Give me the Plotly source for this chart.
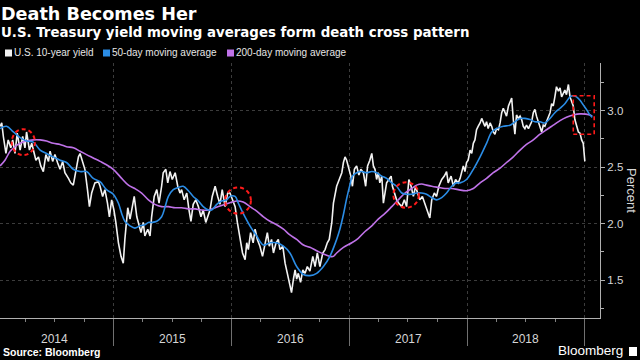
import plotly.graph_objects as go
import pandas as pd

BASE = pd.Timestamp("2014-01-01")

# ---- data: days since 2014-01-01 and yield in percent ----
yield_days = [12, 17, 22, 30, 37, 45, 51, 58, 65, 74, 82, 89, 94, 103, 110, 115, 123, 131, 138, 146,
              154, 162, 167, 175, 182, 190, 198, 206, 213, 224, 231, 239, 247, 255, 260, 268, 275, 283,
              289, 296, 306, 317, 322, 330, 337, 345, 351, 358, 365, 371,
              379, 387, 394, 399, 408, 415, 420, 428, 436, 443, 449, 456, 461, 470, 477, 482, 490, 498,
              505, 513, 518, 526, 532, 539, 546, 555, 563, 570, 575, 583, 591, 598, 604, 611, 619, 627,
              635, 642, 650, 656, 663, 670, 679, 687, 694, 701, 710, 718,
              725, 733, 741, 748, 756, 764, 772, 777, 782, 789, 797, 803, 810, 818, 826, 834, 841, 847,
              854, 860, 868, 875, 880, 889, 896, 903, 909, 916, 922, 927, 932, 937, 944, 951, 958, 965,
              973, 982, 989, 996, 1004, 1013, 1020, 1027, 1033, 1041, 1046, 1051, 1056, 1064, 1072, 1077,
              1082, 1087, 1094, 1100, 1105, 1111, 1118, 1125, 1131, 1139, 1146, 1152, 1159, 1165, 1170,
              1175, 1180, 1185, 1190, 1196, 1201, 1206, 1211, 1218, 1225, 1229, 1235, 1242, 1249, 1258,
              1266, 1273, 1280, 1287, 1294, 1301, 1307, 1314, 1322, 1330, 1338, 1345, 1351, 1359, 1366,
              1373, 1382, 1390, 1397, 1402, 1411, 1418, 1425, 1433,
              1439, 1444, 1449, 1454, 1459, 1464, 1470, 1475, 1480, 1485, 1490, 1495, 1501, 1506, 1511,
              1516, 1521, 1526, 1532, 1537, 1542, 1547, 1552, 1558, 1563, 1568, 1573, 1578, 1583, 1589,
              1594, 1599, 1604, 1609, 1614, 1620, 1625, 1630, 1635, 1640, 1645, 1651, 1656, 1661, 1666,
              1671, 1676, 1682, 1687, 1692, 1697, 1702, 1707, 1713, 1718, 1723, 1728, 1733, 1738, 1744,
              1749, 1754, 1759, 1764, 1769, 1775, 1780, 1785, 1790, 1795, 1800, 1806, 1811, 1816, 1821,
              1826]
yield_vals = [2.86, 2.89, 2.77, 2.62, 2.74, 2.67, 2.74, 2.62, 2.80, 2.65, 2.77, 2.67, 2.81, 2.65, 2.71,
              2.65, 2.56, 2.59, 2.51, 2.46, 2.61, 2.55, 2.64, 2.55, 2.61, 2.54, 2.48, 2.55, 2.45, 2.40,
              2.36, 2.34, 2.45, 2.59, 2.62, 2.55, 2.48, 2.30, 2.15, 2.27, 2.36, 2.37, 2.33, 2.24, 2.30,
              2.18, 2.06, 2.21, 2.12, 2.01,
              1.83, 1.71, 1.65, 1.86, 2.14, 2.04, 2.12, 2.24, 2.06, 1.98, 1.92, 2.01, 1.89, 1.95, 1.89,
              2.06, 2.24, 2.30, 2.18, 2.33, 2.45, 2.48, 2.36, 2.46, 2.39, 2.45, 2.33, 2.27, 2.30, 2.21,
              2.27, 2.12, 2.02, 2.17, 2.21, 2.15, 2.06, 2.12, 2.01, 2.06, 2.12, 2.24, 2.33, 2.24, 2.17,
              2.30, 2.15, 2.27,
              2.27, 2.21, 2.15, 2.01, 1.89, 1.74, 1.68, 1.83, 1.77, 1.92, 1.83, 1.95, 1.86, 1.80, 1.71,
              1.83, 1.92, 1.80, 1.86, 1.74, 1.83, 1.86, 1.77, 1.80, 1.65, 1.56, 1.48, 1.39, 1.51, 1.59,
              1.51, 1.56, 1.48, 1.59, 1.56, 1.62, 1.58, 1.71, 1.62, 1.74, 1.62, 1.74, 1.77, 1.83, 1.86,
              2.01, 2.18, 2.27, 2.33, 2.39, 2.45, 2.54,
              2.59, 2.56, 2.48, 2.42, 2.33, 2.48, 2.51, 2.43, 2.48, 2.45, 2.33, 2.51, 2.56, 2.62, 2.51,
              2.48, 2.39, 2.45, 2.36, 2.42, 2.18, 2.27, 2.36, 2.39, 2.42, 2.33, 2.27, 2.21, 2.18, 2.15,
              2.21, 2.15, 2.39, 2.33, 2.24, 2.33, 2.27, 2.21, 2.24, 2.18, 2.12, 2.05, 2.21, 2.27, 2.24,
              2.33, 2.39, 2.42, 2.46, 2.36, 2.42, 2.33, 2.39, 2.36,
              2.40, 2.45, 2.51, 2.46, 2.54, 2.56, 2.65, 2.62, 2.71, 2.74, 2.83, 2.86, 2.89, 2.93, 2.90,
              2.86, 2.90, 2.84, 2.89, 2.86, 2.81, 2.79, 2.84, 2.83, 2.89, 2.98, 3.02, 2.98, 2.95, 3.04,
              3.08, 3.11, 2.92, 2.79, 2.96, 2.93, 2.95, 2.92, 2.86, 2.84, 2.87, 2.84, 2.87, 2.90, 2.98,
              3.01, 2.95, 2.90, 2.86, 2.81, 2.87, 2.86, 2.90, 2.95, 2.98, 3.06, 3.04, 3.12, 3.21, 3.17,
              3.20, 3.12, 3.15, 3.18, 3.14, 3.23, 3.12, 3.08, 3.04, 2.92, 2.86, 2.81, 2.80, 2.74, 2.71,
              2.55]

ma50_days = [12, 32, 53, 74, 94, 115, 136, 156, 177, 198, 218, 239, 260, 280, 301, 322, 342, 363, 379,
             389, 399, 415, 430, 446, 461, 472, 482, 498, 513, 524, 534, 549, 565, 580, 596, 611, 627,
             642, 658, 668, 684, 699, 715, 725, 741, 751, 766, 787, 808, 829, 849, 870, 891, 911, 932,
             953, 973, 994, 1015, 1035, 1056, 1066, 1077, 1087, 1097, 1105, 1118, 1133, 1149, 1165, 1180,
             1196, 1211, 1227, 1242, 1258, 1273, 1289, 1304, 1320, 1335, 1351, 1366, 1382, 1397, 1413,
             1428, 1439, 1459, 1480, 1501, 1521, 1537, 1552, 1573, 1594, 1609, 1625, 1640, 1656, 1671,
             1687, 1702, 1718, 1733, 1749, 1764, 1780, 1790, 1800, 1811, 1821, 1831, 1842, 1849]
ma50_vals = [2.84, 2.86, 2.81, 2.76, 2.73, 2.72, 2.65, 2.62, 2.59, 2.56, 2.54, 2.48, 2.46, 2.46, 2.40,
             2.37, 2.30, 2.26, 2.18, 2.09, 2.02, 1.98, 1.96, 1.98, 1.99, 2.01, 2.01, 2.02, 2.06, 2.15,
             2.24, 2.30, 2.32, 2.33, 2.29, 2.24, 2.20, 2.15, 2.12, 2.12, 2.17, 2.20, 2.21, 2.24, 2.24,
             2.18, 2.09, 1.98, 1.89, 1.81, 1.83, 1.83, 1.80, 1.74, 1.62, 1.55, 1.54, 1.56, 1.62, 1.71,
             1.86, 1.95, 2.08, 2.22, 2.34, 2.42, 2.45, 2.46, 2.45, 2.46, 2.45, 2.42, 2.40, 2.36, 2.33,
             2.27, 2.26, 2.26, 2.27, 2.27, 2.26, 2.23, 2.21, 2.23, 2.27, 2.33, 2.36, 2.36, 2.39, 2.48,
             2.59, 2.71, 2.81, 2.84, 2.86, 2.87, 2.90, 2.93, 2.93, 2.92, 2.90, 2.90, 2.89, 2.93, 2.98,
             3.02, 3.06, 3.12, 3.13, 3.12, 3.09, 3.05, 3.01, 2.96, 2.94]

ma200_days = [12, 27, 43, 58, 74, 94, 115, 136, 156, 177, 198, 218, 239, 260, 280, 301, 322, 342, 363,
              389, 410, 430, 451, 472, 492, 513, 534, 555, 575, 596, 617, 637, 658, 679, 699, 720, 746,
              766, 787, 808, 829, 849, 870, 891, 911, 932, 953, 973, 994, 1015, 1035, 1046, 1056, 1077,
              1103, 1123, 1144, 1165, 1185, 1206, 1227, 1247, 1268, 1289, 1304, 1320, 1335, 1351, 1371,
              1392, 1413, 1433, 1459, 1480, 1501, 1521, 1542, 1563, 1583, 1604, 1625, 1645, 1666, 1687,
              1707, 1728, 1749, 1769, 1790, 1811, 1842, 1849]
ma200_vals = [2.51, 2.56, 2.64, 2.68, 2.71, 2.73, 2.74, 2.74, 2.73, 2.71, 2.70, 2.68, 2.67, 2.64, 2.61,
              2.58, 2.55, 2.52, 2.48, 2.40, 2.34, 2.31, 2.27, 2.21, 2.17, 2.15, 2.15, 2.14, 2.14, 2.13,
              2.13, 2.12, 2.12, 2.14, 2.16, 2.18, 2.20, 2.19, 2.15, 2.11, 2.06, 2.02, 1.99, 1.95, 1.90,
              1.86, 1.81, 1.79, 1.76, 1.73, 1.71, 1.71, 1.74, 1.79, 1.83, 1.87, 1.93, 1.98, 2.04, 2.09,
              2.15, 2.21, 2.27, 2.31, 2.34, 2.35, 2.34, 2.33, 2.32, 2.31, 2.31, 2.30, 2.29, 2.31, 2.36,
              2.40, 2.45, 2.49, 2.54, 2.59, 2.65, 2.70, 2.74, 2.79, 2.83, 2.87, 2.91, 2.94, 2.96, 2.97,
              2.96, 2.95]

# highlighted crossings: (start day, end day, low, high)
cross_circles = [(48, 120, 2.605, 2.835), (710, 790, 2.088, 2.32), (1232, 1311, 2.14, 2.365)]
cross_box = (1790, 1855, 2.79, 3.13)

title_text = "Death Becomes Her"
subtitle_text = "U.S. Treasury yield moving averages form death cross pattern"
year_labels = ["2014", "2015", "2016", "2017", "2018"]
year_mid = ["2014-07-02", "2015-07-02", "2016-07-02", "2017-07-02", "2018-07-02"]
year_bounds = ["2015-01-01", "2016-01-01", "2017-01-01", "2018-01-01", "2019-01-01"]
y_ticks = [1.5, 2.0, 2.5, 3.0]
x_range_days = [11.6, 1873]
y_range = [1.165, 3.42]

WHITE = "#f2f2f2"
BLUE = "#2b8de6"
PURPLE = "#bf72e8"
RED = "#ff1a1a"
TXT = "#d6d6d6"
FONT = "Liberation Sans"
HEAD = "DejaVu Sans"


def to_dates(days):
    return BASE + pd.to_timedelta(days, unit="D")


# pixel -> paper helpers for the fixed 640x360 layout (plot area 0..600 x 63..318)
def pxp(x):
    return x / 600.0


def pyp(y):
    return (318.0 - y) / 255.0


fig = go.Figure()
fig.add_trace(go.Scatter(x=to_dates(yield_days), y=yield_vals, mode="lines",
                         line=dict(color=WHITE, width=1.6), name="U.S. 10-year yield"))
fig.add_trace(go.Scatter(x=to_dates(ma200_days), y=ma200_vals, mode="lines",
                         line=dict(color=PURPLE, width=1.6, shape="spline"), name="200-day moving average"))
fig.add_trace(go.Scatter(x=to_dates(ma50_days), y=ma50_vals, mode="lines",
                         line=dict(color=BLUE, width=1.6, shape="spline"), name="50-day moving average"))

shapes = []
for d0, d1, lo, hi in cross_circles:
    dd = to_dates([d0, d1])
    shapes.append(dict(type="circle", xref="x", yref="y", x0=dd[0], x1=dd[1], y0=lo, y1=hi,
                       line=dict(color=RED, width=2, dash="4px,3px")))
bd = to_dates([cross_box[0], cross_box[1]])
shapes.append(dict(type="rect", xref="x", yref="y", x0=bd[0], x1=bd[1], y0=cross_box[2], y1=cross_box[3],
                   line=dict(color=RED, width=1.6, dash="4px,3px")))

legend_items = [("U.S. 10-year yield", WHITE, 5), ("50-day moving average", BLUE, 103),
                ("200-day moving average", PURPLE, 227)]
annotations = []
for label, col, x in legend_items:
    shapes.append(dict(type="rect", xref="paper", yref="paper", x0=pxp(x), x1=pxp(x + 7),
                       y0=pyp(56.5), y1=pyp(49.5), fillcolor=col, line=dict(width=0)))
    annotations.append(dict(text=label, x=pxp(x + 7), y=pyp(53), xref="paper", yref="paper",
                            xanchor="left", yanchor="middle", showarrow=False,
                            font=dict(size=10, color="#e6e6e6", family=FONT)))

# Bloomberg mark icon
shapes.append(dict(type="rect", xref="paper", yref="paper", x0=pxp(629), x1=pxp(637),
                   y0=pyp(356), y1=pyp(347), fillcolor="#ffffff", line=dict(width=0)))

annotations += [
    dict(text="<b>" + title_text + "</b>", x=pxp(0), y=pyp(13.9), xref="paper", yref="paper",
         xanchor="left", yanchor="middle", showarrow=False, borderpad=0,
         font=dict(size=17.6, color="#ffffff", family=HEAD)),
    dict(text="<b>" + subtitle_text + "</b>", x=pxp(0), y=pyp(32.8), xref="paper", yref="paper",
         xanchor="left", yanchor="middle", showarrow=False, borderpad=0,
         font=dict(size=13.35, color="#ffffff", family=HEAD)),
    dict(text="<b>Source: Bloomberg</b>", x=pxp(1), y=pyp(352), xref="paper", yref="paper",
         xanchor="left", yanchor="middle", showarrow=False, font=dict(size=10.5, color="#ffffff", family=FONT)),
    dict(text="Bloomberg", x=pxp(625), y=pyp(350), xref="paper", yref="paper",
         xanchor="right", yanchor="middle", showarrow=False, font=dict(size=13.5, color="#ffffff", family=FONT)),
    dict(text="Percent", x=pxp(632), y=pyp(191), xref="paper", yref="paper", textangle=90,
         xanchor="center", yanchor="middle", showarrow=False, font=dict(size=13, color=TXT, family=FONT)),
]
for lab, mid in zip(year_labels, year_mid):
    annotations.append(dict(text=lab, x=mid, y=pyp(338.5), xref="x", yref="paper", xanchor="center",
                            yanchor="middle", showarrow=False, font=dict(size=12, color=TXT, family=FONT)))

fig.update_layout(
    width=640, height=360,
    paper_bgcolor="#000000", plot_bgcolor="#000000",
    margin=dict(l=0, r=40, t=63, b=42),
    showlegend=False,
    font=dict(family=FONT, color=TXT),
    shapes=shapes, annotations=annotations,
    xaxis=dict(type="date", range=list(to_dates(x_range_days)), tickvals=year_bounds, showticklabels=False,
               ticks="outside", ticklen=27, tickcolor="#707070", tickwidth=1,
               showline=True, linecolor="#b0b0b0", linewidth=1,
               showgrid=True, gridcolor="#3c3c3c", griddash="dot", gridwidth=1, zeroline=False,
               minor=dict(dtick="M3", tick0="2014-01-01", ticks="outside", ticklen=3, tickcolor="#808080",
                          showgrid=False),
               automargin=False, fixedrange=True),
    yaxis=dict(side="right", range=y_range, tickvals=y_ticks, tickformat=".1f",
               ticks="outside", ticklen=4, tickcolor="#b0b0b0",
               showline=True, linecolor="#b0b0b0", linewidth=1,
               showgrid=True, gridcolor="#3c3c3c", griddash="dot", gridwidth=1, zeroline=False,
               tickfont=dict(size=11.5, color=TXT, family=FONT),
               minor=dict(dtick=0.25, tick0=1.25, ticks="outside", ticklen=3, tickcolor="#b0b0b0", showgrid=False),
               automargin=False, fixedrange=True),
)

fig.write_html("out.html", config={"displayModeBar": False},
               post_script="document.body.style.margin='0';document.body.style.padding='0';"
                           "document.body.style.background='#000';")
